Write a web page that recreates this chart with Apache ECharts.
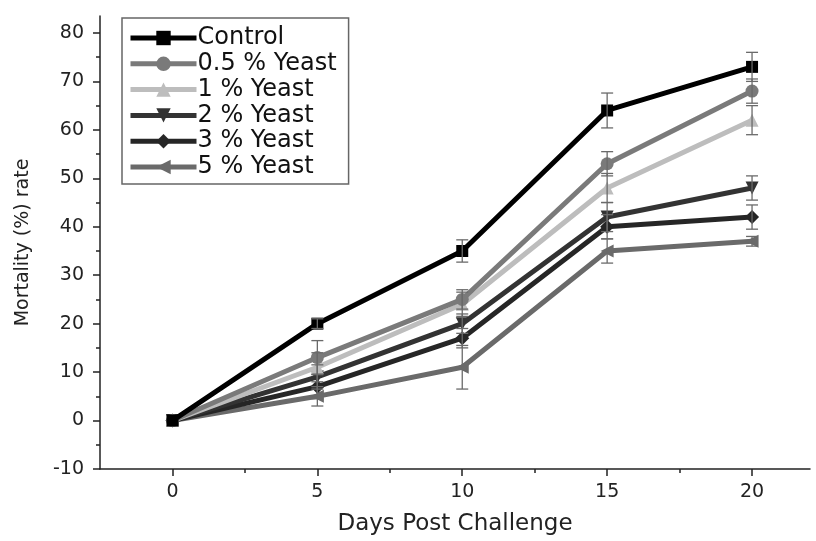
<!DOCTYPE html>
<html><head><meta charset="utf-8">
<script src="https://cdn.jsdelivr.net/npm/echarts@6/dist/echarts.min.js"></script>
<style>html,body{margin:0;padding:0;background:#fff}#c{width:816px;height:541px}</style>
</head><body><div id="c"></div>
<script>
const days = [0, 5, 10, 15, 20];
const seriesNames = ['Control', '0.5 % Yeast', '1 % Yeast', '2 % Yeast', '3 % Yeast', '5 % Yeast'];
const control = [0, 20, 35, 64, 73];
const yeast05 = [0, 13, 25, 53, 68];
const yeast1 = [0, 11, 24, 48, 62];
const yeast2 = [0, 9, 20, 42, 48];
const yeast3 = [0, 7, 17, 40, 42];
const yeast5 = [0, 5, 11, 35, 37];
const errControl = [0, 1, 2.3, 3.6, 3];
const err05 = [0, 3.5, 2, 2.5, 2.5];
const err1 = [0, 3, 2.5, 3, 3];
const err2 = [0, 2.5, 2, 3, 2.5];
const err3 = [0, 2.5, 2, 2.5, 2.5];
const err5 = [0, 2, 4.5, 2.5, 1];
const xMajorTicks = [0, 5, 10, 15, 20];
const xMinorTicks = [2.5, 7.5, 12.5, 17.5];
const yMajorTicks = [-10, 0, 10, 20, 30, 40, 50, 60, 70, 80];
const yMinorTicks = [-5, 5, 15, 25, 35, 45, 55, 65, 75];

const values = [control, yeast05, yeast1, yeast2, yeast3, yeast5];
const errors = [errControl, err05, err1, err2, err3, err5];
const colors = ['#000000', '#7a7a7a', '#bdbdbd', '#333333', '#262626', '#6a6a6a'];
const symbols = ['rect', 'circle', 'triangle', 'triangle', 'diamond', 'triangle'];
const rotations = [0, 0, 0, 180, 0, 90];
const sizes = [12, 13, 13, 13, 14, 13];
const FONT = 'DejaVu Sans, Verdana, sans-serif';

const lineSeries = seriesNames.map((n, i) => ({
  name: n, type: 'line', xAxisIndex: 0, yAxisIndex: 0,
  data: days.map((d, j) => [d, values[i][j]]),
  symbol: symbols[i], symbolRotate: rotations[i], symbolSize: sizes[i],
  showAllSymbol: true,
  lineStyle: { color: colors[i], width: 5 },
  itemStyle: { color: colors[i], borderWidth: 0 },
  z: 10 - i
}));

const errSeries = seriesNames.map((n, i) => ({
  type: 'custom', xAxisIndex: 0, yAxisIndex: 0, silent: true, z: 12,
  data: days.map((d, j) => [d, values[i][j] - errors[i][j], values[i][j] + errors[i][j]]).filter((r, j) => errors[i][j] > 0),
  renderItem: function (params, api) {
    const x = api.value(0);
    const lo = api.coord([x, api.value(1)]);
    const hi = api.coord([x, api.value(2)]);
    const w = 6;
    const st = { stroke: '#6a6a6a', lineWidth: 1.3 };
    return { type: 'group', children: [
      { type: 'line', shape: { x1: lo[0], y1: lo[1], x2: hi[0], y2: hi[1] }, style: st },
      { type: 'line', shape: { x1: lo[0] - w, y1: lo[1], x2: lo[0] + w, y2: lo[1] }, style: st },
      { type: 'line', shape: { x1: hi[0] - w, y1: hi[1], x2: hi[0] + w, y2: hi[1] }, style: st }
    ]};
  }
}));

const tickStyle = { color: '#222', width: 1.5 };
const axisFont = { color: '#222', fontSize: 19, fontFamily: FONT };
function tickAxis(base, vals, len) {
  return Object.assign({}, base, {
    axisLine: { show: false, onZero: false },
    axisTick: { show: true, customValues: vals, length: len, lineStyle: tickStyle },
    axisLabel: { show: false },
    splitLine: { show: false }
  });
}
const xBase = { type: 'value', min: -2.5, max: 22, position: 'bottom', gridIndex: 0 };
const yBase = { type: 'value', min: -10, max: 83.5, position: 'left', gridIndex: 0 };

const chart = echarts.init(document.getElementById('c'), null, { renderer: 'canvas' });
chart.setOption({
  backgroundColor: '#fff',
  animation: false,
  grid: { left: 100, right: 6, top: 16, bottom: 70 },
  legend: {
    data: seriesNames, orient: 'vertical', left: 122, top: 18,
    itemWidth: 66, itemHeight: 18, itemGap: 1.8,
    padding: [8, 12, 5, 6],
    borderColor: '#666', borderWidth: 1.5,
    lineStyle: { width: 5 },
    textStyle: { color: '#111', fontSize: 24, fontFamily: FONT, padding: [0, 0, 0, -4] }
  },
  xAxis: [Object.assign({}, xBase, {
    name: 'Days Post Challenge', nameLocation: 'middle', nameGap: 44,
    nameTextStyle: { color: '#222', fontSize: 23, fontFamily: FONT },
    axisLine: { show: true, onZero: false, lineStyle: { color: '#222', width: 1.5 } },
    axisTick: { show: false },
    axisLabel: { customValues: xMajorTicks, margin: 14, ...axisFont },
    splitLine: { show: false }
  }), tickAxis(xBase, xMajorTicks, 7), tickAxis(xBase, xMinorTicks, 4)],
  yAxis: [Object.assign({}, yBase, {
    name: 'Mortality (%) rate', nameLocation: 'middle', nameGap: 67, nameRotate: 90,
    nameTextStyle: { color: '#222', fontSize: 19, fontFamily: FONT },
    axisLine: { show: true, onZero: false, lineStyle: { color: '#222', width: 1.5 } },
    axisTick: { show: false },
    axisLabel: { customValues: yMajorTicks, margin: 16, ...axisFont },
    splitLine: { show: false }
  }), tickAxis(yBase, yMajorTicks, 7), tickAxis(yBase, yMinorTicks, 4)],
  series: [...lineSeries, ...errSeries]
});
</script></body></html>
